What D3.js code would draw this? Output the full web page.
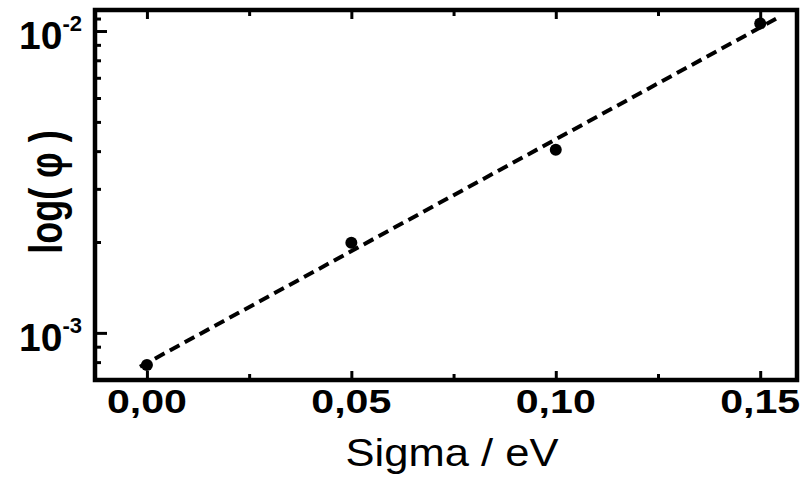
<!DOCTYPE html>
<html>
<head>
<meta charset="utf-8">
<script src="https://cdn.jsdelivr.net/npm/d3@7"></script>
<style>
  body { margin: 0; background: #fff; }
  text { font-family: "Liberation Sans", Arial, sans-serif; fill: #000; }
</style>
</head>
<body>
<div id="chart"></div>
<script>
// measured points: disorder width sigma vs phi
var sigma = [0.00, 0.05, 0.10, 0.15];
var phi = [7.83e-4, 1.99e-3, 4.04e-3, 1.06e-2];

// straight fit through the points (on the log scale)
var fitSigma = [-0.0017, 0.154];
var fitPhi = [7.72e-4, 1.10e-2];

var xTicks = [0.00, 0.05, 0.10, 0.15];
var xMinor = [0.025, 0.075, 0.125];
var yTicks = [1e-3, 1e-2];
var yTickExp = ["-3", "-2"];
var yMinor = [8e-4, 9e-4, 2e-3, 3e-3, 4e-3, 5e-3, 6e-3, 7e-3, 8e-3, 9e-3, 1.1e-2];

var screen = {width: 801, height: 480};
var margins = {top: 10, bottom: 100, left: 95, right: 4};
var graph = {
    width: screen.width - margins.left - margins.right,
    height: screen.height - margins.top - margins.bottom
};

var svg = d3.select("#chart")
    .append("svg")
    .attr("width", screen.width)
    .attr("height", screen.height);

var g = svg.append("g")
    .attr("transform", "translate(" + margins.left + "," + margins.top + ")");

var xScale = d3.scaleLinear()
    .domain([-0.0127, 0.159])
    .range([0, graph.width]);

var yScale = d3.scaleLog()
    .domain([6.98e-4, 1.174e-2])
    .range([graph.height, 0]);

// ticks point into the plot, bottom and top
var tickAxis = function(axis, size, vals, transform) {
    g.append("g")
        .attr("transform", transform)
        .call(axis.tickValues(vals).tickSize(size).tickFormat(""))
        .call(function(s) { s.select(".domain").remove(); })
        .selectAll("line").attr("stroke", "#000").attr("stroke-width", 3);
};
tickAxis(d3.axisBottom(xScale), -9, xTicks, "translate(0," + graph.height + ")");
tickAxis(d3.axisBottom(xScale), -6, xMinor, "translate(0," + graph.height + ")");
tickAxis(d3.axisTop(xScale), -9, xTicks, "translate(0,0)");
tickAxis(d3.axisTop(xScale), -6, xMinor, "translate(0,0)");
tickAxis(d3.axisLeft(yScale), -12, yTicks, "translate(0,0)");
tickAxis(d3.axisLeft(yScale), -6, yMinor, "translate(0,0)");

// frame
g.append("rect")
    .attr("x", 0).attr("y", 0)
    .attr("width", graph.width).attr("height", graph.height)
    .attr("fill", "none")
    .attr("stroke", "#000")
    .attr("stroke-width", 4.5);

// x tick labels with decimal comma
var fmt = d3.format(".2f");
g.selectAll(".xlab")
    .data(xTicks)
    .enter()
    .append("text")
    .attr("x", function(d) { return xScale(d); })
    .attr("y", graph.height + 33)
    .attr("text-anchor", "middle")
    .attr("font-size", 33)
    .attr("font-weight", "bold")
    .attr("textLength", 80)
    .attr("lengthAdjust", "spacingAndGlyphs")
    .text(function(d) { return fmt(d).replace(".", ","); });

// y tick labels 10^n
var ylab = g.selectAll(".ylab")
    .data(yTicks)
    .enter()
    .append("text")
    .attr("x", -13)
    .attr("y", function(d) { return yScale(d) + 18; })
    .attr("text-anchor", "end")
    .attr("font-size", 39)
    .attr("font-weight", "bold");
ylab.append("tspan").text("10");
ylab.append("tspan")
    .attr("dy", -18)
    .attr("font-size", 22)
    .text(function(d, i) { return yTickExp[i]; });

// axis titles
svg.append("text")
    .attr("x", 452)
    .attr("y", 466)
    .attr("text-anchor", "middle")
    .attr("font-size", 39)
    .attr("textLength", 213)
    .attr("lengthAdjust", "spacingAndGlyphs")
    .text("Sigma / eV");

svg.append("text")
    .attr("transform", "translate(45,192) rotate(-90) scale(1,1.3)")
    .attr("dy", "0.36em")
    .attr("text-anchor", "middle")
    .attr("font-size", 36)
    .attr("font-weight", "bold")
    .text("log( φ )");

// dashed fit line
var line = d3.line()
    .x(function(d) { return xScale(d[0]); })
    .y(function(d) { return yScale(d[1]); });

g.append("path")
    .datum(d3.zip(fitSigma, fitPhi))
    .attr("d", line)
    .attr("fill", "none")
    .attr("stroke", "#000")
    .attr("stroke-width", 4)
    .attr("stroke-dasharray", "11,6");

// data points
g.selectAll("circle")
    .data(d3.zip(sigma, phi))
    .enter()
    .append("circle")
    .attr("cx", function(d) { return xScale(d[0]); })
    .attr("cy", function(d) { return yScale(d[1]); })
    .attr("r", 6)
    .attr("fill", "#000");
</script>
</body>
</html>
